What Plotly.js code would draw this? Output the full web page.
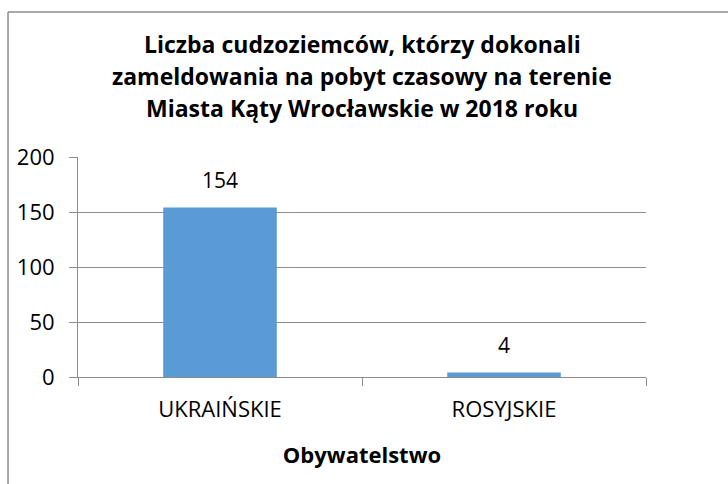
<!DOCTYPE html>
<html>
<head>
<meta charset="utf-8">
<script src="https://cdn.plot.ly/plotly-3.0.1.min.js"></script>
<style>html,body{margin:0;padding:0;background:#fff;}#chart{width:728px;height:484px;}</style>
</head>
<body>
<div id="chart"></div>
<script>
const categories = ["UKRAIŃSKIE", "ROSYJSKIE"];
const values = [154, 4];
const yTicks = [0, 50, 100, 150, 200];
const titleLines = [
  "Liczba cudzoziemców, którzy dokonali",
  "zameldowania na pobyt czasowy na terenie",
  "Miasta Kąty Wrocławskie w 2018 roku"
];
const xTitle = "Obywatelstwo";

const FONT = "'Open Sans', Lato, sans-serif";
const GRID = "#8c8c8c";

const titleY = [1.5136, 1.368, 1.2227];
const annotations = titleLines.map((t, i) => ({
  text: "<b>" + t + "</b>", xref: "paper", yref: "paper", x: 0.5, y: titleY[i],
  xanchor: "center", yanchor: "middle", showarrow: false,
  font: {family: FONT, size: 23, color: "#000"}
}));
categories.forEach((c, i) => annotations.push({
  text: String(values[i]), x: c, y: values[i], xref: "x", yref: "y",
  yanchor: "bottom", yshift: 12, showarrow: false,
  font: {family: FONT, size: 21, color: "#000"}
}));

const data = [{
  type: "bar", x: categories, y: values,
  marker: {color: "#5b9bd5"}, hoverinfo: "skip"
}];

const layout = {
  width: 728, height: 484,
  margin: {l: 78, r: 82, t: 157, b: 107},
  paper_bgcolor: "#fff", plot_bgcolor: "#fff",
  bargap: 0.6,
  showlegend: false,
  font: {family: FONT, size: 20, color: "#000"},
  xaxis: {
    type: "category",
    showline: true, linecolor: GRID, linewidth: 1,
    ticks: "outside", tickson: "boundaries", ticklen: 8, tickcolor: GRID,
    tickfont: {family: FONT, size: 22, color: "#000"},
    ticklabelstandoff: 13,
    showgrid: false,
    title: {text: "<b>" + xTitle + "</b>", font: {family: FONT, size: 22, color: "#000"}, standoff: 25}
  },
  yaxis: {
    range: [0, 200], tickvals: yTicks,
    showline: true, linecolor: GRID, linewidth: 1,
    ticks: "outside", ticklen: 8, tickcolor: GRID,
    showgrid: true, gridcolor: GRID, gridwidth: 1,
    zeroline: false,
    tickfont: {family: FONT, size: 22, color: "#000"},
    ticklabelstandoff: 10
  },
  annotations: annotations,
  shapes: [
    {type: "line", xref: "paper", yref: "paper", x0: -0.1232, x1: 1.1444, y0: 1.659, y1: 1.659, line: {color: "#8c8c8c", width: 1.5}},
    {type: "line", xref: "paper", yref: "paper", x0: -0.1232, x1: -0.1232, y0: 1.659, y1: -0.49, line: {color: "#8c8c8c", width: 1.5}}
  ]
};

Plotly.newPlot("chart", data, layout, {displayModeBar: false, staticPlot: true});
</script>
</body>
</html>
